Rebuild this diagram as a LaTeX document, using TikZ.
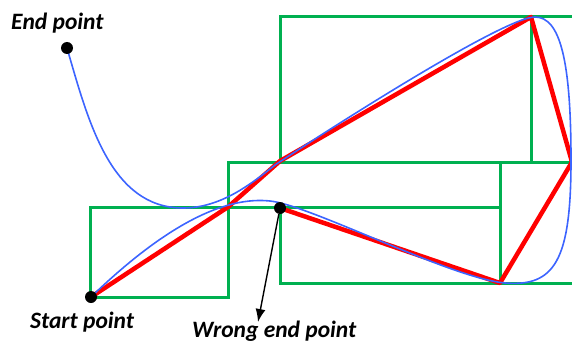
\documentclass[tikz,border=0pt]{standalone}
\usepackage{fontspec}
\setmainfont{Carlito}
\usetikzlibrary{arrows.meta}
\definecolor{grn}{RGB}{0,176,80}
\definecolor{blu}{RGB}{60,100,255}
\begin{document}
\begin{tikzpicture}[x=1pt,y=-1pt,
 box/.style={draw=grn,line width=3pt},
 poly/.style={draw=red,line width=4.5pt,line join=round},
 curve/.style={draw=blu,line width=1.6pt},
 dot/.style={circle,fill=black,inner sep=0pt,minimum size=12pt},
 lbl/.style={font=\fontsize{23.5}{26}\selectfont\bfseries\itshape,inner sep=0pt,anchor=base west},
 arr/.style={-{Latex[length=13pt,width=10pt]},line width=1.4pt}]
\useasboundingbox (0,0) rectangle (572,342);
\begin{scope}
\clip (0,0) rectangle (572,342);
% green boxes
\draw[box] (90,207) rectangle (228,297);
\draw[box] (228,162) rectangle (500,207);
\draw[box] (280,207) rectangle (500,283);
\draw[box] (280,17) rectangle (531,162);
\draw[box] (531,17) rectangle (576,162);
\draw[box] (500,162) rectangle (576,283);
% control polygon
\coordinate (p0) at (91,297);
\coordinate (p1) at (228,207);
\coordinate (p2) at (280,161);
\coordinate (p3) at (531,17);
\coordinate (p4) at (572,162);
\coordinate (p5) at (500,283);
\coordinate (p6) at (280,208);
\draw[poly] (p0) -- (p1) -- (p2) -- (p3) -- (p4) -- (p5) -- (p6);
% curve
\draw[curve] (91,297) .. controls (150,240) and (215,195) .. (270,201)
  .. controls (310,205) and (450,278) .. (505,283)
  .. controls (555,287) and (571,260) .. (571,160)
  .. controls (571,60) and (560,17) .. (535,17)
  .. controls (505,17) and (340,122) .. (275,165)
  .. controls (250,185) and (220,208) .. (183,208)
  .. controls (110,208) and (88,120) .. (67,48);
\end{scope}
% points
\node[dot] (s) at (91,297) {};
\node[dot] (e) at (67,48) {};
\node[dot] (w) at (280,208) {};
\coordinate (tip) at (258,322);
\draw[arr] (w) -- (tip);
% labels
\node[lbl] (le) at (11,30) {End point};
\node[lbl] (ls) at (30,328) {Start point};
\node[lbl] (lw) at (192,337) {Wrong end point};
\end{tikzpicture}
\end{document}
